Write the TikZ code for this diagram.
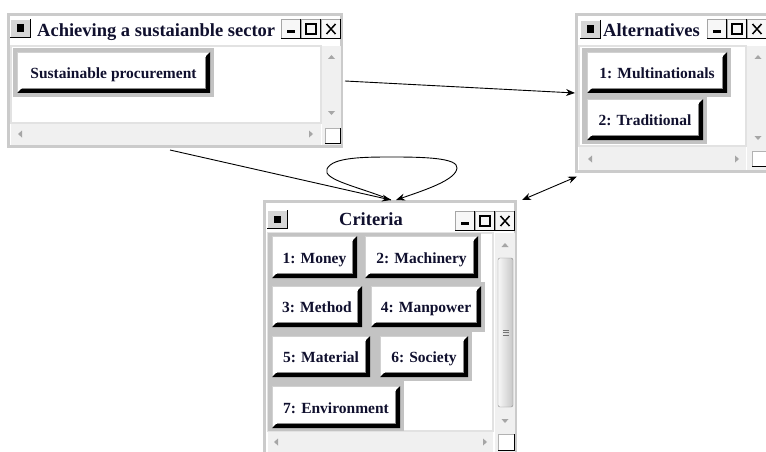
\documentclass[tikz,border=0pt]{standalone}
\usepackage{fontspec}
\setmainfont{Liberation Serif}
\usetikzlibrary{arrows.meta,calc}
\definecolor{framegray}{HTML}{CBCBCB}
\definecolor{panelgray}{HTML}{C3C3C3}
\definecolor{scrollgray}{HTML}{F0F0F0}
\definecolor{arrgray}{HTML}{A6A6A6}
\definecolor{sysgray}{HTML}{D6D6D6}
\definecolor{txtcol}{HTML}{10102E}
\definecolor{contentline}{HTML}{E2E2E2}
\tikzset{
  wintitle/.style={font=\bfseries\fontsize{18.5}{18.5}\selectfont, text=txtcol, inner sep=0pt},
  btntext/.style={font=\bfseries\fontsize{15.5}{15.5}\selectfont, text=txtcol, inner sep=0pt},
  winframe/.style={draw=framegray, line width=3pt, fill=white, inner sep=0pt, outer sep=0pt},
  conn/.style={line width=0.9pt, -{Stealth[length=9pt,width=7pt]}},
  conn2/.style={line width=0.9pt, {Stealth[length=9pt,width=7pt]}-{Stealth[length=9pt,width=7pt]}},
}
\newcommand{\rkBtn}[6]{%
  \fill[white] (#2,#3) rectangle (#4,#5);
  \draw[line width=1pt, draw=black!18] (#2+0.5,#5-1) -- (#2+0.5,#3+0.5) -- (#4-1,#3+0.5);
  \fill[black] (#4,#3) -- (#4,#5) -- (#2,#5) -- (#2+4,#5-4) -- (#4-4,#5-4) -- (#4-4,#3+4) -- cycle;
  \draw[line width=1pt, draw=black!45] (#2+5,#5-4.5) -- (#4-4.5,#5-4.5) -- (#4-4.5,#3+5);
  \node[btntext, anchor=base] (#1) at ({(#2+#4)/2},{(#3+#5)/2+6}) {#6};
}
\newcommand{\rkSys}[2]{%
  \fill[sysgray] (#1,#2) rectangle (#1+21,#2+19);
  \draw[line width=1pt, white] (#1+0.5,#2+19) -- (#1+0.5,#2+0.5) -- (#1+21,#2+0.5);
  \draw[line width=1.2pt, black] (#1+20.4,#2) -- (#1+20.4,#2+18.4) -- (#1,#2+18.4);
  \fill[black] (#1+6.5,#2+5.5) rectangle (#1+14,#2+13);
}
\newcommand{\rkTBtns}[2]{%
  \foreach \i in {0,1,2}{
    \fill[black!3] ({#1+20*\i},#2) rectangle ({#1+20*\i+20},#2+20);
    \draw[line width=1pt, black!35] ({#1+20*\i+0.5},#2+20) -- ({#1+20*\i+0.5},#2+0.5) -- ({#1+20*\i+20},#2+0.5);
    \draw[line width=1.3pt, black] ({#1+20*\i+19.4},#2) -- ({#1+20*\i+19.4},#2+19.4) -- ({#1+20*\i},#2+19.4);
  }
  \fill[black] (#1+6,#2+11) rectangle (#1+14,#2+14);
  \draw[line width=1.2pt] (#1+25,#2+5) rectangle (#1+35,#2+15);
  \draw[line width=1.5pt] (#1+45.5,#2+5) -- (#1+54.5,#2+15) (#1+45.5,#2+15) -- (#1+54.5,#2+5);
}
\newcommand{\rkUp}[2]{\fill[arrgray] (#1-3.5,#2+2) -- (#1+3.5,#2+2) -- (#1,#2-2) -- cycle;}
\newcommand{\rkDown}[2]{\fill[arrgray] (#1-3.5,#2-2) -- (#1+3.5,#2-2) -- (#1,#2+2) -- cycle;}
\newcommand{\rkLeft}[2]{\fill[arrgray] (#1+2,#2-3.5) -- (#1+2,#2+3.5) -- (#1-2,#2) -- cycle;}
\newcommand{\rkRight}[2]{\fill[arrgray] (#1-2,#2-3.5) -- (#1-2,#2+3.5) -- (#1+2,#2) -- cycle;}
\newcommand{\rkCorner}[4]{%
  \fill[white] (#1,#2) rectangle (#3,#4);
  \draw[line width=1pt, black!30] (#1+0.5,#4) -- (#1+0.5,#2+0.5) -- (#3,#2+0.5);
  \draw[line width=1.3pt, black] (#3-0.6,#2) -- (#3-0.6,#4-0.6) -- (#1,#4-0.6);
}
\begin{document}
\begin{tikzpicture}[x=1pt, y=-1pt]
\useasboundingbox[fill=white] (0,0) rectangle (766,452);

% ---------- Window 1 ----------
\node[winframe, anchor=north west, minimum width=333, minimum height=132] (w1) at (8.5,14.5) {};
\rkSys{10}{19}
\node[wintitle, anchor=base west] (t1) at (37,37) {Achieving a sustaianble sector};
\rkTBtns{281}{19}
\filldraw[fill=white, draw=contentline, line width=1.5pt] (11,46) rectangle (321,123);
\fill[scrollgray] (322,46) rectangle (341,145);
\fill[scrollgray] (11,124) rectangle (321,145);
\rkUp{331.5}{57}
\rkDown{331.5}{113}
\rkLeft{20}{134}
\rkRight{311}{134}
\rkCorner{325}{128}{341}{144}
\fill[panelgray] (13,48) rectangle (214,97);
\rkBtn{sp}{17}{52}{210}{93}{Sustainable procurement}

% ---------- Alternatives ----------
\node[winframe, anchor=north west, minimum width=194, minimum height=157] (alt) at (576.5,14.5) {};
\rkSys{580}{20}
\node[wintitle, anchor=base west] (t2) at (603,37) {Alternatives};
\rkTBtns{707}{19}
\filldraw[fill=white, draw=contentline, line width=1.5pt] (579,46) rectangle (746,146);
\fill[scrollgray] (747,46) rectangle (772,170);
\fill[scrollgray] (579,147) rectangle (746,170);
\rkUp{758}{57}
\rkDown{758}{138}
\rkLeft{590}{159}
\rkRight{737}{159}
\rkCorner{752}{151}{768}{167}
\fill[panelgray] (582,48) rectangle (731,97);
\fill[panelgray] (582,96) rectangle (707,144);
\rkBtn{m}{587}{52}{727}{93}{1: Multinationals}
\rkBtn{tr}{587}{99}{703}{140}{2: Traditional}

% ---------- Criteria ----------
\node[winframe, anchor=north west, minimum width=251, minimum height=255] (crit) at (264.5,201.5) {};
\rkSys{267}{210}
\node[wintitle, anchor=base] (t3) at (371,225) {Criteria};
\rkTBtns{455}{211}
\filldraw[fill=white, draw=contentline, line width=1.5pt] (268,233) rectangle (493,431);
\fill[scrollgray] (495,233) rectangle (515,452);
\fill[scrollgray] (268,432) rectangle (493,452);
\draw[draw=black!45, left color=black!3, right color=black!22, rounded corners=2pt] (498,258) rectangle (513,407);
\draw[black!55, line width=0.6pt] (503,330) -- (509,330) (503,332.5) -- (509,332.5) (503,335) -- (509,335);
\rkUp{505}{245}
\rkDown{505}{421}
\rkLeft{276}{442}
\rkRight{485}{442}
\rkCorner{498}{434}{515}{451}
\fill[panelgray] (268,233) rectangle (481,282);
\fill[panelgray] (268,282) rectangle (485,332);
\fill[panelgray] (268,332) rectangle (472,381);
\fill[panelgray] (268,381) rectangle (404,431);
\rkBtn{b1}{272}{236}{357}{278}{1: Money}
\rkBtn{b2}{365}{236}{478}{278}{2: Machinery}
\rkBtn{b3}{272}{286}{362}{327}{3: Method}
\rkBtn{b4}{371}{286}{481}{327}{4: Manpower}
\rkBtn{b5}{272}{336}{370}{377}{5: Material}
\rkBtn{b6}{380}{336}{468}{377}{6: Society}
\rkBtn{b7}{272}{386}{400}{428}{7: Environment}

% ---------- Connectors ----------
\coordinate (c1s) at ($(w1.south west)+(161.5,3.5)$);
\coordinate (c1e) at ($(crit.north west)+(126.5,-1.5)$);
\coordinate (lpE) at ($(crit.north west)+(131.5,-1.5)$);
\coordinate (c3s) at ($(w1.east)+(3.5,0.5)$);
\coordinate (c3e) at ($(alt.west)+(-1.5,0)$);
\coordinate (c4s) at ($(crit.north east)+(6.5,-1.5)$);
\coordinate (c4e) at ($(alt.south west)+(0.5,5)$);
\draw[conn] (c1s) -- (c1e);
\draw[conn] (c1e) .. controls (360,187) and (322,180) .. (327,169)
  .. controls (332,157) and (365,157) .. (393,157)
  .. controls (425,157) and (458,158) .. (457,168)
  .. controls (456,180) and (425,190) .. (lpE);
\draw[conn] (c3s) -- (c3e);
\draw[conn2] (c4s) -- (c4e);
\end{tikzpicture}
\end{document}
